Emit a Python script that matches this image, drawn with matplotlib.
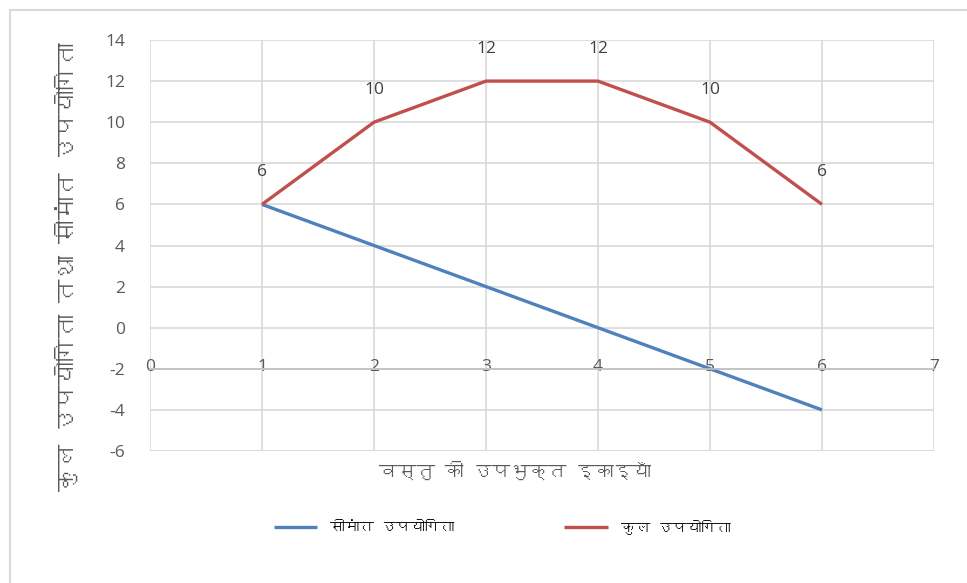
import matplotlib
matplotlib.use("Agg")
import matplotlib.pyplot as plt
from matplotlib import font_manager
from matplotlib.ft2font import FT2Font
from matplotlib.patches import Rectangle

# ---- data ----
units = [1, 2, 3, 4, 5, 6]
marginal_utility = [6, 4, 2, 0, -2, -4]
total_utility = [6, 10, 12, 12, 10, 6]
x_ticks = [0, 1, 2, 3, 4, 5, 6, 7]
y_ticks = [-6, -4, -2, 0, 2, 4, 6, 8, 10, 12, 14]
series_names = ["सीमांत उपयोगिता", "कुल उपयोगिता"]
x_title = "वस्तु की उपभुक्त इकाइयाँ"
y_title = "कुल उपयोगिता तथा सीमांत उपयोगिता"

# ---- find a font that covers Devanagari ----
deva_family = None
for fe in font_manager.fontManager.ttflist:
    try:
        cm = FT2Font(fe.fname).get_charmap()
    except Exception:
        continue
    if 0x0915 in cm and 0x093F in cm:
        deva_family = fe.name
        break
families = ([deva_family] if deva_family else []) + ["DejaVu Sans"]
plt.rcParams["font.family"] = families
plt.rcParams["axes.unicode_minus"] = False

GRID = "#d9d9d9"
TXT = "#595959"
BLUE = "#4f81bd"
RED = "#c0504d"
NUMFONT = ["Open Sans", "DejaVu Sans"]

fig = plt.figure(figsize=(9.67, 5.83), dpi=100)
W, H = 967, 583
# outer chart frame
fig.patches.append(Rectangle((10 / W, -0.1), 1.2, 1 - 10 / H + 0.1,
                             transform=fig.transFigure, fill=False,
                             edgecolor="#d9d9d9", linewidth=1.5))

ax = fig.add_axes([150 / W, 1 - 451 / H, (934 - 150) / W, (451 - 40) / H])
ax.set_xlim(0, 7)
ax.set_ylim(-6, 14)
ax.set_xticks(x_ticks)
ax.set_yticks(y_ticks)
ax.grid(True, color=GRID, linewidth=1.2)
ax.set_axisbelow(True)
for s in ["top", "right", "left"]:
    ax.spines[s].set_visible(False)
ax.spines["bottom"].set_position(("data", -2))
ax.spines["bottom"].set_color("#bfbfbf")
ax.spines["bottom"].set_linewidth(1.2)
ax.tick_params(axis="both", length=0, labelsize=12.5, labelcolor=TXT)
ax.tick_params(axis="x", pad=-7)
ax.tick_params(axis="y", pad=18)
for lbl in ax.get_xticklabels() + ax.get_yticklabels():
    lbl.set_fontfamily(NUMFONT)
ax.axhline(-6, color=GRID, linewidth=1.2, zorder=0.5)

l1, = ax.plot(units, marginal_utility, color=BLUE, linewidth=2.4,
              solid_capstyle="butt", label=series_names[0])
l2, = ax.plot(units, total_utility, color=RED, linewidth=2.4,
              solid_capstyle="butt", label=series_names[1])

for xv, yv in zip(units, total_utility):
    ax.annotate(str(yv), (xv, yv), xytext=(0, 32), textcoords="offset pixels",
                ha="center", va="center", fontsize=12.5, color="#404040",
                family=NUMFONT)

fig.text(515 / W, 1 - 470 / H, x_title, ha="center", va="center",
         fontsize=13.5, color=TXT)
fig.text(66 / W, 1 - 267 / H, y_title, ha="center", va="center",
         rotation=90, fontsize=17, color=TXT)

leg = fig.legend(handles=[l1, l2], loc="center", ncol=2,
                 bbox_to_anchor=(502 / W, 1 - 527 / H), frameon=False,
                 fontsize=10.5, handlelength=3.0, columnspacing=7.5,
                 handletextpad=0.9)
for t in leg.get_texts():
    t.set_color("#000000")
    t.set_fontweight("bold")

fig.savefig("out.png", dpi=100)
